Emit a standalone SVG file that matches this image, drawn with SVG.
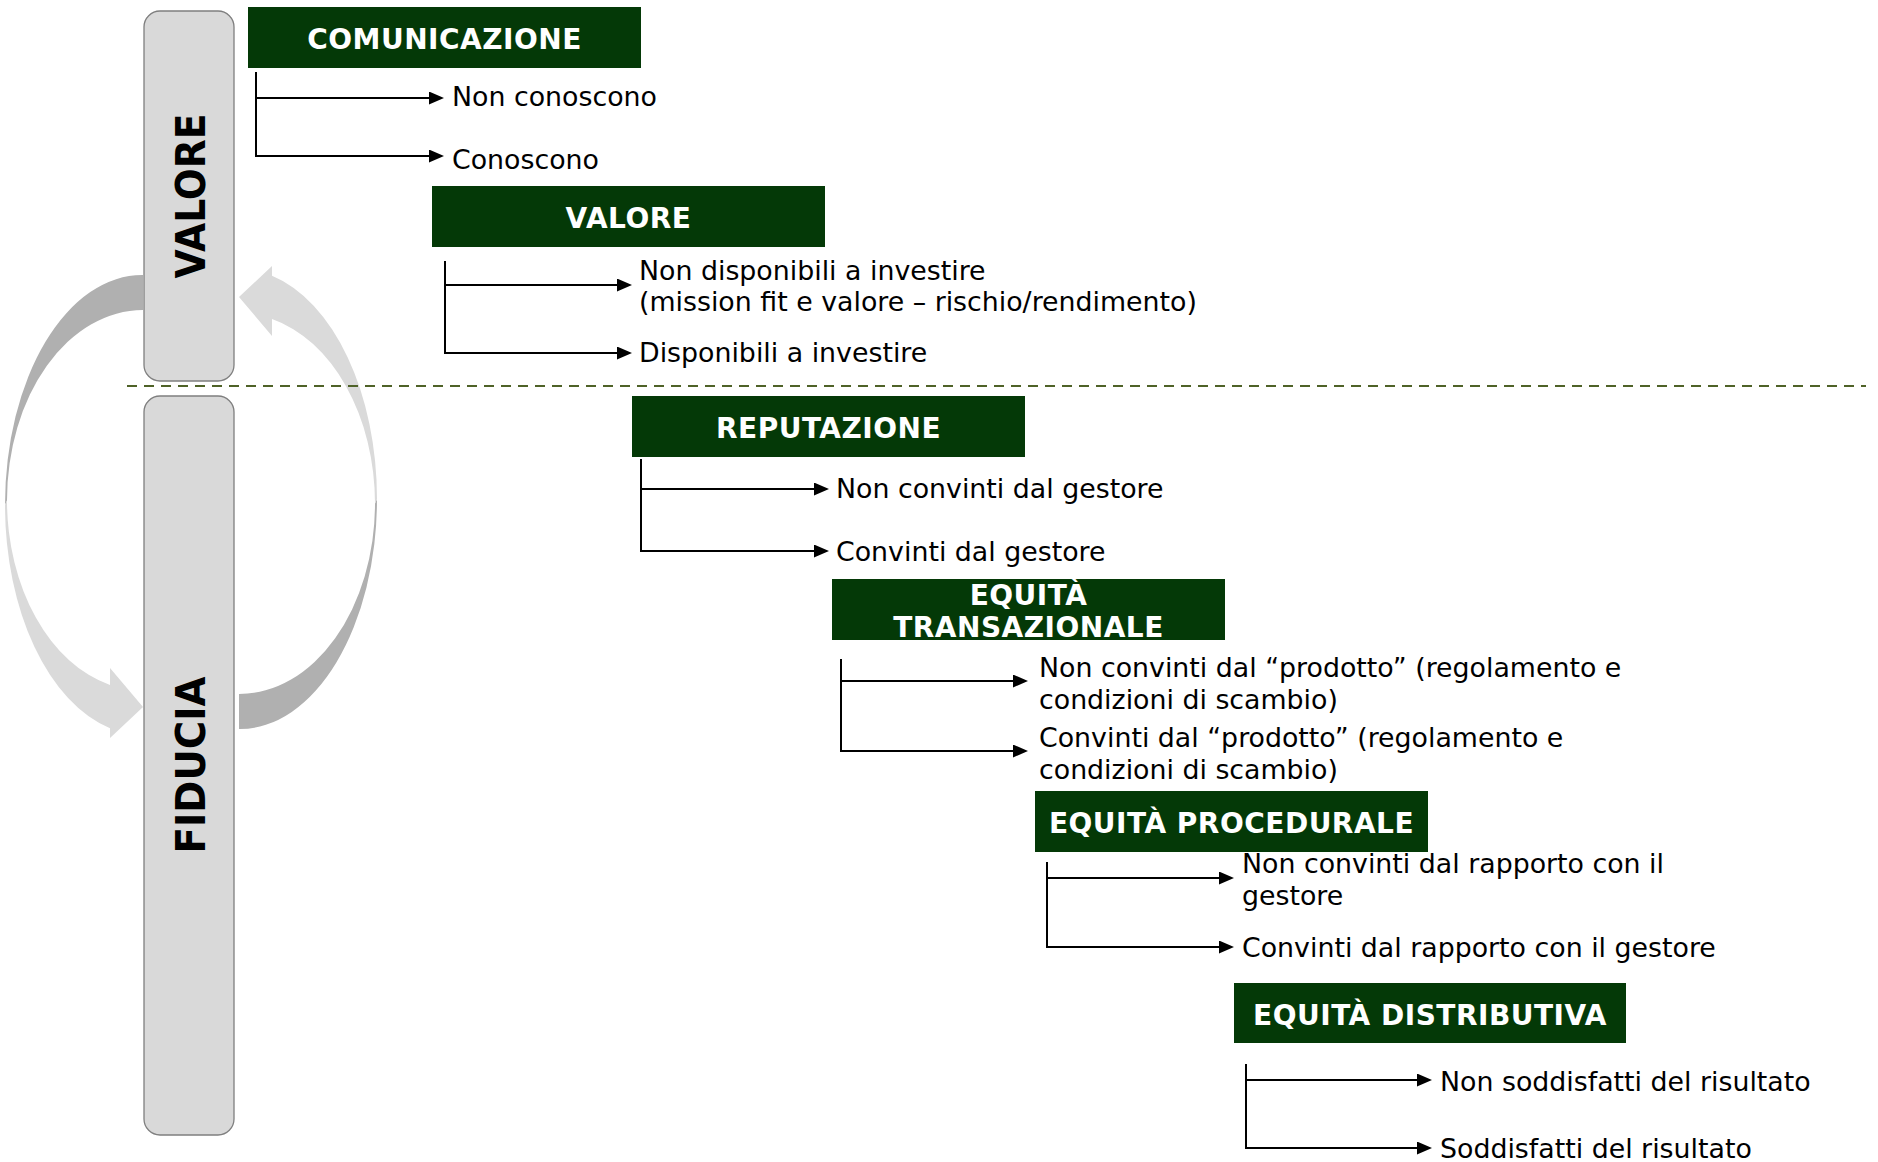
<svg xmlns="http://www.w3.org/2000/svg" width="1878" height="1162" viewBox="0 0 1878 1162">
<defs>
<style>
.hdr{fill:#043907}
.ht{font-family:"DejaVu Sans","Verdana",sans-serif;font-weight:bold;font-size:28px;letter-spacing:0.5px;fill:#ffffff;text-anchor:middle}
.lb{font-family:"DejaVu Sans","Verdana",sans-serif;font-size:26.8px;fill:#000000}
.pill{fill:#d9d9d9;stroke:#7f7f7f;stroke-width:1.3}
.pt{font-family:"DejaVu Sans","Verdana",sans-serif;font-weight:bold;font-size:40px;fill:#000000;text-anchor:middle}
.cn{fill:none;stroke:#000000;stroke-width:2}
.dark{fill:#b0b0b0}
.light{fill:#dadada}
</style>
<marker id="ah" viewBox="0 0 15 13" refX="3" refY="6.5" markerWidth="15" markerHeight="13" markerUnits="userSpaceOnUse" orient="auto">
<path d="M0,0 L15,6.5 L0,13 Z" fill="#000000"/>
</marker>
<g id="carrow">
<path class="dark" d="M143,275 A137,230 0 0 0 5,505 L7,500.4 A136,190.4 0 0 1 143,310 Z"/>
<path class="light" d="M5,505 A138,230 0 0 0 110,728.2 L110,738 L143,707 L110,668 L110,685 A136,190.4 0 0 1 7,500.4 Z"/>
</g>
</defs>
<rect width="1878" height="1162" fill="#ffffff"/>

<g id="cycle">
<use href="#carrow"/>
<use href="#carrow" transform="rotate(180 191 502)"/>
</g>

<g id="pill-valore">
<rect class="pill" x="144" y="11" width="90" height="370" rx="16"/>
<text class="pt" transform="translate(205,196) rotate(-90)" textLength="165" lengthAdjust="spacingAndGlyphs">VALORE</text>
</g>
<g id="pill-fiducia">
<rect class="pill" x="144" y="396" width="90" height="739" rx="16"/>
<text class="pt" transform="translate(205,765) rotate(-90)" textLength="177" lengthAdjust="spacingAndGlyphs">FIDUCIA</text>
</g>

<line id="separator" x1="127" y1="386" x2="1866" y2="386" stroke="#4f6228" stroke-width="2" stroke-dasharray="10 7"/>

<g id="node-comunicazione">
<rect class="hdr" x="248" y="7" width="393" height="61"/>
<text class="ht" x="444.5" y="49">COMUNICAZIONE</text>
<text class="lb" x="452" y="106">Non conoscono</text>
<text class="lb" x="452" y="169">Conoscono</text>
</g>
<g id="node-valore">
<rect class="hdr" x="432" y="186" width="393" height="61"/>
<text class="ht" x="628.5" y="228">VALORE</text>
<text class="lb" x="639" y="280">Non disponibili a investire</text>
<text class="lb" x="639" y="311">(mission fit e valore – rischio/rendimento)</text>
<text class="lb" x="639" y="362">Disponibili a investire</text>
</g>
<g id="node-reputazione">
<rect class="hdr" x="632" y="396" width="393" height="61"/>
<text class="ht" x="828.5" y="438">REPUTAZIONE</text>
<text class="lb" x="836" y="498">Non convinti dal gestore</text>
<text class="lb" x="836" y="561">Convinti dal gestore</text>
</g>
<g id="node-transazionale">
<rect class="hdr" x="832" y="579" width="393" height="61"/>
<text class="ht" x="1028.5" y="605">EQUITÀ</text>
<text class="ht" x="1028.5" y="637">TRANSAZIONALE</text>
<text class="lb" x="1039" y="677">Non convinti dal “prodotto” (regolamento e</text>
<text class="lb" x="1039" y="709">condizioni di scambio)</text>
<text class="lb" x="1039" y="747">Convinti dal “prodotto” (regolamento e</text>
<text class="lb" x="1039" y="779">condizioni di scambio)</text>
</g>
<g id="node-procedurale">
<rect class="hdr" x="1035" y="791" width="393" height="61"/>
<text class="ht" x="1231.5" y="833">EQUITÀ PROCEDURALE</text>
<text class="lb" x="1242" y="873">Non convinti dal rapporto con il</text>
<text class="lb" x="1242" y="905">gestore</text>
<text class="lb" x="1242" y="957">Convinti dal rapporto con il gestore</text>
</g>
<g id="node-distributiva">
<rect class="hdr" x="1234" y="983" width="392" height="60"/>
<text class="ht" x="1430" y="1025">EQUITÀ DISTRIBUTIVA</text>
<text class="lb" x="1440" y="1091">Non soddisfatti del risultato</text>
<text class="lb" x="1440" y="1158">Soddisfatti del risultato</text>
</g>

<g id="connectors">
<path class="cn" d="M256,72 V156 H432" marker-end="url(#ah)"/>
<path class="cn" d="M256,98 H432" marker-end="url(#ah)"/>
<path class="cn" d="M445,261 V353 H620" marker-end="url(#ah)"/>
<path class="cn" d="M445,285 H620" marker-end="url(#ah)"/>
<path class="cn" d="M641,459 V551 H817" marker-end="url(#ah)"/>
<path class="cn" d="M641,489 H817" marker-end="url(#ah)"/>
<path class="cn" d="M841,659 V751 H1016" marker-end="url(#ah)"/>
<path class="cn" d="M841,681 H1016" marker-end="url(#ah)"/>
<path class="cn" d="M1047,862 V947 H1222" marker-end="url(#ah)"/>
<path class="cn" d="M1047,878 H1222" marker-end="url(#ah)"/>
<path class="cn" d="M1246,1064 V1148 H1420" marker-end="url(#ah)"/>
<path class="cn" d="M1246,1080 H1420" marker-end="url(#ah)"/>
</g>
</svg>
